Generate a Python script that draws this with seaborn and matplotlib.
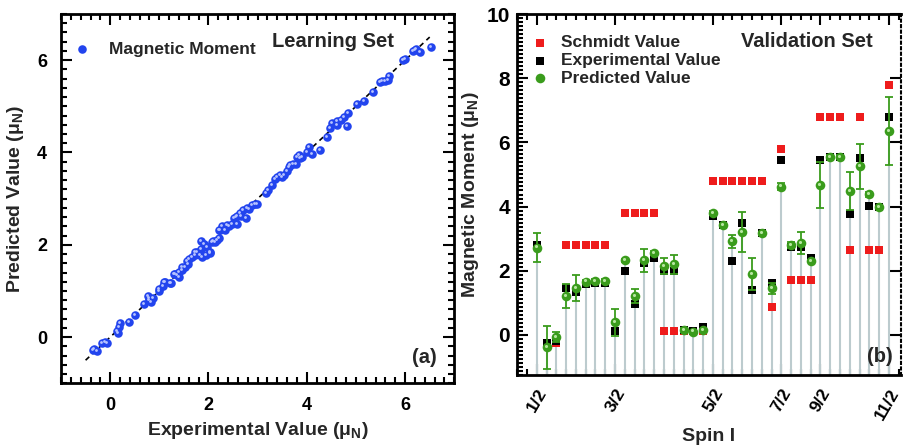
import numpy as np
import pandas as pd
import matplotlib
matplotlib.use('Agg')
import matplotlib.pyplot as plt
import seaborn as sns
from matplotlib.ticker import MultipleLocator, FixedLocator
from matplotlib.transforms import offset_copy

sns.set_style('ticks')
plt.rcParams['font.family'] = ['Liberation Sans', 'DejaVu Sans']
plt.rcParams['font.weight'] = 'bold'
plt.rcParams['mathtext.default'] = 'regular'

# ---------------- Learning set (panel a) ----------------
learn_exp = [-0.32, -0.27, -0.35, -0.17, -0.10, -0.07, 0.14, 0.16, 0.17, 0.20, 0.39, 0.51,
             0.68, 0.77, 0.80, 0.80, 0.83, 0.87, 0.99, 1.00, 1.07, 1.09, 1.12, 1.22, 1.24,
             1.29, 1.31, 1.36, 1.39, 1.39, 1.46, 1.46, 1.53, 1.57, 1.58, 1.61, 1.67, 1.72,
             1.73, 1.77, 1.82, 1.84, 1.84, 1.87, 1.90, 1.94, 1.97, 2.03, 2.04, 2.08, 2.09,
             2.14, 2.18, 2.21, 2.22, 2.24, 2.28, 2.33, 2.38, 2.41, 2.48, 2.52, 2.55, 2.59,
             2.59, 2.65, 2.66, 2.71, 2.76, 2.78, 2.82, 2.89, 2.95, 2.99, 3.16, 3.21, 3.30,
             3.35, 3.40, 3.46, 3.50, 3.53, 3.59, 3.64, 3.66, 3.71, 3.78, 3.80, 3.84, 3.86,
             3.91, 4.00, 4.05, 4.10, 4.27, 4.41, 4.47, 4.52, 4.61, 4.62, 4.69, 4.76, 4.81,
             4.83, 5.03, 5.16, 5.34, 5.48, 5.54, 5.60, 5.65, 5.68, 5.95, 6.00, 6.16, 6.20,
             6.22, 6.31, 6.53]
learn_pred = [-0.25, -0.30, -0.28, -0.12, -0.11, -0.13, 0.14, 0.10, 0.22, 0.30, 0.33, 0.49,
              0.72, 0.90, 0.80, 0.85, 0.76, 0.85, 1.05, 1.01, 1.10, 1.19, 1.19, 1.17, 1.17,
              1.37, 1.37, 1.34, 1.30, 1.41, 1.46, 1.52, 1.52, 1.66, 1.59, 1.70, 1.74, 1.77,
              1.84, 1.84, 1.77, 2.08, 1.92, 1.74, 2.02, 1.77, 1.95, 1.82, 1.84, 2.06, 2.08,
              2.06, 2.10, 2.15, 2.31, 2.31, 2.40, 2.33, 2.42, 2.40, 2.45, 2.57, 2.60, 2.62,
              2.46, 2.69, 2.62, 2.75, 2.57, 2.80, 2.78, 2.86, 2.88, 2.89, 3.12, 3.18, 3.29,
              3.43, 3.47, 3.51, 3.47, 3.52, 3.60, 3.69, 3.72, 3.75, 3.76, 3.90, 3.94, 3.88,
              3.90, 4.01, 4.12, 3.96, 4.05, 4.34, 4.52, 4.64, 4.68, 4.60, 4.71, 4.77, 4.57,
              4.86, 5.05, 5.12, 5.31, 5.53, 5.55, 5.55, 5.57, 5.65, 6.00, 6.02, 6.20, 6.23,
              6.25, 6.18, 6.29]
diag = [-0.5, 6.5]

# ---------------- Validation set (panel b) ----------------
spin_labels = ['1/2', '3/2', '5/2', '7/2', '9/2', '11/2']
spin_tick_pos = [0, 8, 18, 25, 29, 36]
schmidt = [2.79, -0.26, -0.26, 2.79, 2.79, 2.79, 2.79, 2.79,
           0.12, 3.79, 3.79, 3.79, 3.79, 0.12, 0.12, 0.12, 0.12, 0.12,
           4.79, 4.79, 4.79, 4.79, 4.79, 4.79, 0.86,
           5.79, 1.72, 1.72, 1.72,
           6.79, 6.79, 6.79, 2.63, 6.79, 2.63, 2.63,
           7.79]
experimental = [2.79, -0.25, -0.20, 1.45, 1.35, 1.60, 1.62, 1.62,
                0.12, 2.00, 0.95, 2.25, 2.40, 2.00, 2.00, 0.15, 0.12, 0.25,
                3.70, 3.42, 2.30, 3.50, 1.40, 3.17, 1.63,
                5.44, 2.73, 2.75, 2.39,
                5.45, 5.55, 5.55, 3.76, 5.52, 4.02, 4.00,
                6.80]
predicted = [2.72, -0.38, -0.07, 1.22, 1.47, 1.66, 1.68, 1.68,
             0.40, 2.32, 1.22, 2.32, 2.55, 2.15, 2.20, 0.15, 0.10, 0.15,
             3.80, 3.42, 2.92, 3.20, 1.89, 3.17, 1.45,
             4.62, 2.80, 2.86, 2.31,
             4.67, 5.55, 5.55, 4.49, 5.26, 4.38, 3.97,
             6.35]
pred_err = [0.45, 0.67, 0.15, 0.37, 0.40, 0.05, 0.05, 0.05,
            0.42, 0.05, 0.22, 0.35, 0.05, 0.25, 0.30, 0.05, 0.03, 0.03,
            0.05, 0.03, 0.20, 0.62, 0.50, 0.05, 0.18,
            0.10, 0.10, 0.35, 0.03,
            0.73, 0.05, 0.05, 0.60, 0.70, 0.08, 0.03,
            1.05]

df_learn = pd.DataFrame({'exp': learn_exp, 'pred': learn_pred})
idx = np.arange(len(schmidt))
df_val = pd.DataFrame({'idx': idx, 'schmidt': schmidt, 'exp': experimental,
                       'pred': predicted, 'err': pred_err})

fig = plt.figure(figsize=(9.04, 4.46), dpi=100)
ax1 = fig.add_axes([0.0675, 0.1406, 0.435, 0.828])
ax2 = fig.add_axes([0.5716, 0.1592, 0.4247, 0.8094])

blue = '#2244ee'
red = '#ee1c1c'
green = '#3a9c1c'

# ---- panel a ----
ax1.plot(diag, diag, color='black', lw=1.2, dashes=(3, 2.5), zorder=1)
sns.scatterplot(data=df_learn, x='exp', y='pred', ax=ax1, color=blue, s=38,
                linewidth=0, label='Magnetic Moment', zorder=2)
sns.scatterplot(data=df_learn, x='exp', y='pred', ax=ax1, color='#b8c4ff', s=4,
                linewidth=0, legend=False, zorder=3,
                transform=offset_copy(ax1.transData, fig=fig, x=-1.0, y=1.0, units='dots'))
ax1.set_xlim(-1, 7)
ax1.set_ylim(-1, 7)
ax1.xaxis.set_major_locator(FixedLocator([0, 2, 4, 6]))
ax1.yaxis.set_major_locator(FixedLocator([0, 2, 4, 6]))
ax1.xaxis.set_minor_locator(MultipleLocator(0.2))
ax1.yaxis.set_minor_locator(MultipleLocator(0.2))
ax1.set_xlabel('Experimental Value (μ$_\\mathregular{N}$)', fontsize=14, fontweight='bold', labelpad=4)
ax1.set_ylabel('Predicted Value (μ$_\\mathregular{N}$)', fontsize=14, fontweight='bold', labelpad=8)
ax1.text(0.692, 0.925, 'Learning Set', transform=ax1.transAxes, fontsize=14.5,
         fontweight='bold', ha='center', va='center')
ax1.text(0.925, 0.071, '(a)', transform=ax1.transAxes, fontsize=14.5,
         fontweight='bold', ha='center', va='center')
leg1 = ax1.legend(loc='center left', bbox_to_anchor=(0.0305, 0.904), frameon=False,
                  fontsize=12.5, handlelength=1.0, handletextpad=1.07, borderpad=0,
                  borderaxespad=0, markerscale=1.0)

# ---- panel b ----
ymin_b = -1.25
ax2.vlines(df_val['idx'], ymin_b, df_val['pred'], color='#bccbce', lw=1.5, zorder=1)
sns.scatterplot(data=df_val, x='idx', y='schmidt', ax=ax2, marker='s', color=red, s=30,
                linewidth=0, label='Schmidt Value', zorder=2)
sns.scatterplot(data=df_val, x='idx', y='exp', ax=ax2, marker='s', color='black', s=30,
                linewidth=0, label='Experimental Value', zorder=3)
ax2.errorbar(df_val['idx'], df_val['pred'], yerr=df_val['err'], fmt='none', ecolor=green,
             elinewidth=1.3, capsize=3, capthick=1.3, zorder=4)
sns.scatterplot(data=df_val, x='idx', y='pred', ax=ax2, marker='o', color=green, s=48,
                linewidth=0, label='Predicted Value', zorder=5)
sns.scatterplot(data=df_val, x='idx', y='pred', ax=ax2, marker='o', color='#b6e6a0', s=5,
                linewidth=0, legend=False, zorder=6,
                transform=offset_copy(ax2.transData, fig=fig, x=-1.0, y=1.2, units='dots'))
ax2.set_xlim(-2.05, 37.2)
ax2.set_ylim(ymin_b, 10)
ax2.xaxis.set_major_locator(FixedLocator(spin_tick_pos))
ax2.set_xticklabels(spin_labels, rotation=60, ha='right', rotation_mode='anchor')
ax2.xaxis.set_minor_locator(MultipleLocator(1))
ax2.yaxis.set_major_locator(FixedLocator([0, 2, 4, 6, 8, 10]))
ax2.yaxis.set_minor_locator(MultipleLocator(0.125))
ax2.set_xlabel('Spin I', fontsize=14, fontweight='bold', labelpad=4)
ax2.set_ylabel('Magnetic Moment (μ$_\\mathregular{N}$)', fontsize=14, fontweight='bold', labelpad=4)
ax2.text(0.755, 0.923, 'Validation Set', transform=ax2.transAxes, fontsize=14.5,
         fontweight='bold', ha='center', va='center')
ax2.text(0.946, 0.051, '(b)', transform=ax2.transAxes, fontsize=14.5,
         fontweight='bold', ha='center', va='center')
leg2 = ax2.legend(loc='center left', bbox_to_anchor=(0.038, 0.871), frameon=False,
                  fontsize=12.5, handlelength=1.0, handletextpad=0.69, borderpad=0,
                  borderaxespad=0, labelspacing=0.15)

for ax in (ax1, ax2):
    for sp in ax.spines.values():
        sp.set_linewidth(2)
        sp.set_color('black')
    ax.tick_params(which='both', direction='in', top=True, right=True, width=1.5,
                   colors='black')
    ax.tick_params(which='major', length=8)
    ax.tick_params(which='minor', length=4)
    for lab in ax.get_xticklabels() + ax.get_yticklabels():
        lab.set_fontweight('bold')

ax1.tick_params(which='major', labelsize=13, pad=10)
ax2.tick_params(axis='y', which='major', labelsize=15, pad=5)
ax2.tick_params(axis='x', which='major', labelsize=12.5, pad=8)
ax2.tick_params(axis='y', which='minor', right=False)
ax2.spines['right'].set_linestyle(':')
ax2.spines['right'].set_linewidth(1.5)

fig.savefig('out.png', dpi=100)
